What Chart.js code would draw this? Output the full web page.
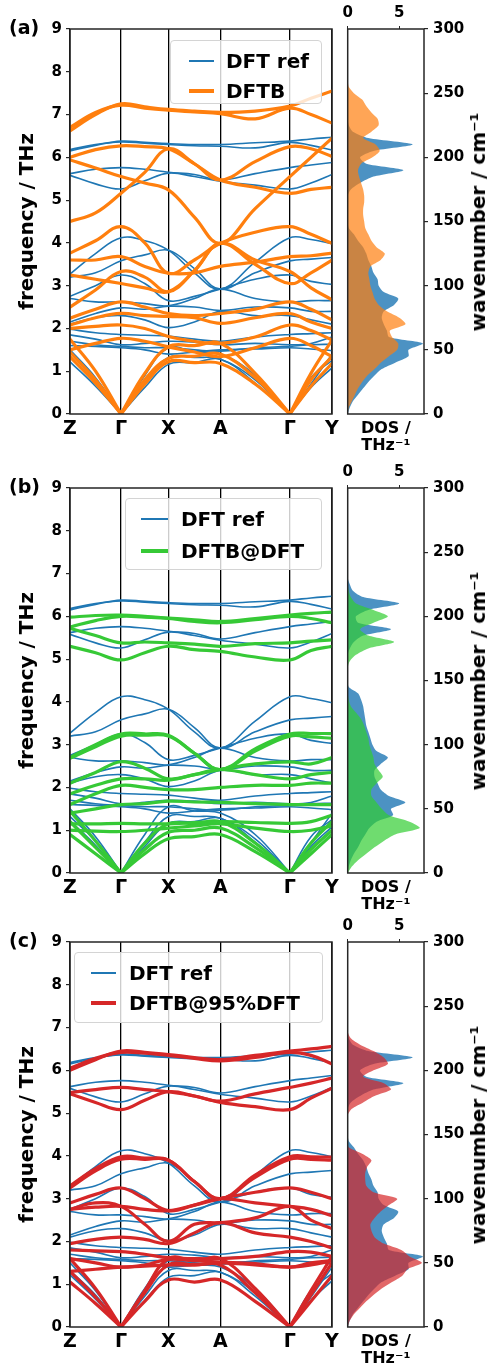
<!DOCTYPE html>
<html><head><meta charset="utf-8">
<script src="https://cdn.jsdelivr.net/npm/chart.js@4.4.1/dist/chart.umd.min.js"></script>
<style>
html,body{margin:0;padding:0;background:#fff;}
#page{position:relative;width:492px;height:1366px;overflow:hidden;font-family:"DejaVu Sans",sans-serif;color:#000;}
canvas{position:absolute;}
.plabel{position:absolute;left:9px;font-weight:bold;font-size:19px;line-height:20px;}
.rtitle{position:absolute;font-weight:bold;font-size:20px;line-height:24px;white-space:nowrap;transform:translate(-50%,-50%) rotate(-90deg);}
.legend{position:absolute;background:rgba(255,255,255,0.8);border:1px solid #d4d4d4;border-radius:4px;box-sizing:border-box;}
.legend .row{position:absolute;left:0;height:24px;width:100%;}
.legend .sw{position:absolute;top:50%;}
.legend .tx{position:absolute;top:0;font-weight:bold;font-size:20px;line-height:24px;white-space:nowrap;}
</style>
</head><body>
<div id="page"></div>
<script>
// ---------- data ----------
const kpos = [0, 51, 98.3, 150.3, 219.7, 261.8];
const klabels = ['Z', 'Γ', 'X', 'A', 'Γ', 'Y'];
// k-path coordinates at which band frequencies (THz) were read
const kSample = [0, 25.5, 51, 74.7, 98.3, 124.3, 150.3, 185, 219.7, 240.8, 261.8];

const dftRef = [
 [6.15, 6.28, 6.38, 6.35, 6.32, 6.30, 6.30, 6.34, 6.38, 6.43, 6.47],
 [6.18, 6.30, 6.36, 6.33, 6.30, 6.27, 6.26, 6.22, 6.35, 6.28, 6.17],
 [5.62, 5.72, 5.76, 5.72, 5.65, 5.60, 5.47, 5.62, 5.76, 5.82, 5.88],
 [5.58, 5.38, 5.26, 5.45, 5.63, 5.55, 5.44, 5.35, 5.26, 5.40, 5.60],
 [3.27, 3.75, 4.12, 4.05, 3.83, 3.30, 2.92, 3.55, 4.12, 4.08, 3.98],
 [3.20, 3.30, 3.58, 3.72, 3.83, 3.40, 2.92, 3.30, 3.58, 3.62, 3.66],
 [2.75, 3.00, 3.25, 3.05, 2.65, 2.75, 2.92, 3.15, 3.25, 3.10, 3.03],
 [2.70, 2.62, 2.62, 2.58, 2.53, 2.70, 2.92, 2.70, 2.62, 2.65, 2.65],
 [2.15, 2.35, 2.48, 2.45, 2.52, 2.50, 2.42, 2.50, 2.48, 2.40, 2.40],
 [2.10, 2.25, 2.30, 2.20, 2.02, 2.15, 2.40, 2.30, 2.30, 2.20, 2.10],
 [1.98, 1.90, 1.86, 1.84, 1.82, 1.75, 1.70, 1.80, 1.86, 1.88, 1.90],
 [1.85, 1.75, 1.62, 1.65, 1.70, 1.68, 1.62, 1.65, 1.62, 1.65, 1.80],
 [1.70, 1.62, 1.58, 1.55, 1.55, 1.50, 1.47, 1.55, 1.58, 1.62, 1.63],
 [1.60, 1.58, 1.55, 1.50, 1.40, 1.45, 1.50, 1.52, 1.55, 1.52, 1.48],
 [1.50, 0.85, 0, 0.90, 1.55, 1.45, 1.40, 0.90, 0, 0.85, 1.25],
 [1.32, 0.75, 0, 0.72, 1.32, 1.32, 1.28, 0.80, 0, 0.70, 1.40],
 [1.22, 0.65, 0, 0.62, 1.16, 1.20, 1.28, 0.72, 0, 0.62, 1.08]
];
const dftb = [
 [6.62, 7.00, 7.25, 7.18, 7.12, 7.08, 7.05, 7.08, 7.20, 7.38, 7.55],
 [6.70, 7.05, 7.22, 7.15, 7.10, 7.06, 7.02, 6.90, 7.15, 7.00, 6.80],
 [6.00, 6.18, 6.27, 6.25, 6.20, 5.85, 5.47, 5.90, 6.25, 6.20, 6.02],
 [5.94, 5.75, 5.55, 5.40, 5.24, 4.60, 3.99, 4.80, 5.55, 6.00, 6.45],
 [4.50, 4.70, 5.16, 5.65, 6.20, 5.85, 5.47, 5.30, 5.16, 5.25, 5.30],
 [3.76, 4.05, 4.38, 4.00, 3.29, 3.60, 3.99, 4.25, 4.38, 4.20, 3.99],
 [3.60, 3.60, 3.68, 3.45, 3.29, 3.30, 3.45, 3.55, 3.68, 3.70, 3.76],
 [3.25, 3.15, 3.05, 2.95, 2.86, 3.35, 3.99, 3.50, 3.05, 3.30, 3.60],
 [2.50, 2.90, 3.33, 3.20, 2.86, 3.35, 3.99, 3.60, 3.33, 2.95, 2.67],
 [2.24, 2.45, 2.62, 2.50, 2.35, 2.30, 2.35, 2.45, 2.62, 2.45, 2.20],
 [2.08, 2.25, 2.35, 2.30, 2.28, 2.25, 2.12, 2.25, 2.35, 2.15, 2.00],
 [2.00, 2.05, 2.08, 2.00, 1.81, 1.70, 1.65, 1.80, 2.08, 1.95, 1.73],
 [1.50, 1.65, 1.77, 1.70, 1.57, 1.45, 1.34, 1.55, 1.77, 1.60, 1.34],
 [1.75, 1.00, 0, 0.95, 1.57, 1.60, 1.65, 0.95, 0, 0.95, 1.73],
 [1.45, 0.80, 0, 0.80, 1.30, 1.35, 1.40, 0.85, 0, 0.80, 1.34],
 [1.34, 0.72, 0, 0.70, 1.22, 1.20, 1.18, 0.70, 0, 0.65, 1.18]
];
const dftbAtDft = [
 [5.98, 6.02, 6.03, 6.00, 5.96, 5.92, 5.88, 5.95, 6.03, 6.07, 6.10],
 [5.75, 5.90, 6.00, 5.98, 5.95, 5.88, 5.85, 5.92, 6.00, 5.95, 5.85],
 [5.72, 5.55, 5.38, 5.40, 5.38, 5.35, 5.30, 5.36, 5.38, 5.42, 5.45],
 [5.30, 5.15, 4.98, 5.15, 5.30, 5.22, 5.18, 5.05, 4.98, 5.20, 5.30],
 [2.70, 3.00, 3.25, 3.25, 3.22, 2.80, 2.42, 2.90, 3.25, 3.26, 3.26],
 [2.68, 2.95, 3.20, 3.22, 3.20, 2.80, 2.42, 2.85, 3.20, 3.18, 3.15],
 [2.10, 2.35, 2.60, 2.45, 2.20, 2.30, 2.42, 2.55, 2.60, 2.55, 2.70],
 [1.85, 2.05, 2.20, 2.20, 2.17, 2.30, 2.42, 2.30, 2.20, 2.30, 2.35],
 [1.60, 1.85, 2.05, 2.00, 1.95, 1.95, 2.00, 2.05, 2.05, 2.10, 2.10],
 [1.40, 1.50, 1.60, 1.62, 1.68, 1.66, 1.65, 1.62, 1.60, 1.60, 1.60],
 [1.15, 1.15, 1.16, 1.15, 1.15, 1.18, 1.20, 1.18, 1.16, 1.20, 1.35],
 [1.00, 0.98, 0.97, 1.00, 1.05, 1.10, 1.15, 1.05, 0.97, 1.00, 1.10],
 [1.45, 0.75, 0, 0.70, 1.15, 1.15, 1.20, 0.70, 0, 0.70, 1.20],
 [1.20, 0.60, 0, 0.55, 0.95, 1.00, 1.05, 0.60, 0, 0.55, 1.00],
 [0.90, 0.45, 0, 0.45, 0.80, 0.85, 0.90, 0.50, 0, 0.45, 0.90]
];
const dftb95 = [
 [6.00, 6.25, 6.45, 6.42, 6.37, 6.30, 6.25, 6.35, 6.45, 6.50, 6.56],
 [6.05, 6.28, 6.42, 6.40, 6.35, 6.28, 6.22, 6.30, 6.42, 6.35, 6.15],
 [5.48, 5.55, 5.60, 5.55, 5.50, 5.40, 5.28, 5.45, 5.60, 5.70, 5.82],
 [5.45, 5.25, 5.08, 5.30, 5.50, 5.40, 5.25, 5.15, 5.08, 5.35, 5.58],
 [3.30, 3.70, 3.98, 3.95, 3.90, 3.40, 3.00, 3.55, 3.98, 3.98, 3.97],
 [3.25, 3.65, 3.92, 3.92, 3.90, 3.40, 3.00, 3.50, 3.92, 3.92, 3.90],
 [2.90, 3.10, 3.25, 3.00, 2.72, 2.85, 3.00, 3.15, 3.25, 3.15, 3.00],
 [2.75, 2.80, 2.82, 2.75, 2.72, 2.85, 3.00, 2.90, 2.82, 2.75, 2.60],
 [2.75, 2.90, 2.82, 2.40, 2.00, 2.40, 2.44, 2.55, 2.82, 2.50, 2.30],
 [1.95, 2.05, 2.10, 2.05, 1.95, 2.20, 2.44, 2.20, 2.10, 2.00, 1.85],
 [1.80, 1.78, 1.76, 1.70, 1.62, 1.60, 1.60, 1.65, 1.76, 1.75, 1.65],
 [1.60, 1.50, 1.40, 1.45, 1.58, 1.55, 1.52, 1.48, 1.40, 1.50, 1.55],
 [1.30, 1.35, 1.40, 1.42, 1.45, 1.45, 1.50, 1.45, 1.40, 1.45, 1.55],
 [1.60, 0.90, 0, 0.85, 1.60, 1.55, 1.60, 0.90, 0, 0.85, 1.65],
 [1.30, 0.70, 0, 0.80, 1.45, 1.45, 1.45, 0.80, 0, 0.75, 1.50],
 [1.05, 0.55, 0, 0.60, 1.10, 1.05, 1.10, 0.60, 0, 0.60, 1.20]
];

// DOS (THz^-1) read at wavenumbers (cm^-1)
const dosFreq = [0,5,10,15,20,25,30,35,40,45,50,55,60,65,70,75,80,85,90,95,100,105,110,115,120,125,130,135,140,145,150,155,160,165,170,175,180,185,190,195,200,205,210,215,220,225,230,235,240,245,250,255,260];
const dosRefAC = [0,0.2,0.5,1.0,1.5,2.0,2.6,3.3,4.6,5.9, 5.9,7.3,4.0,3.8,3.5,3.3,3.5,4.5,4.9,3.5, 3.0,2.9,2.5,2.3,2.0,1.8,1.5,1.0,0.6,0.1, 0,0,0,0,0,0.3,1.2,2.5,5.4,1.8, 1.2,2.5,6.3,2.0,0.5,0.1,0,0,0,0, 0,0,0];
const dosDftb = [0,0.1,0.4,0.7,1.0,1.4,1.9,2.6,3.2,4.0, 4.8,4.9,4.3,4.1,5.6,5.0,3.8,3.0,2.6,2.4, 2.2,2.1,2.0,2.2,3.2,3.6,2.8,2.3,2.0,1.7, 1.6,1.5,1.5,1.6,1.6,1.5,1.3,1.1,1.0,1.3, 2.4,3.1,2.7,1.5,2.3,3.0,2.9,2.3,1.8,1.4, 0.6,0.1,0];
const dosRefB = [0,0.1,0.3,0.6,1.0,1.3,1.7,2.1,2.8,4.4, 4.2,5.6,4.0,3.2,2.9,2.6,2.6,3.2,3.9,2.8, 2.4,2.2,2.0,1.8,1.7,1.6,1.5,1.3,1.0,0.1, 0,0,0,0,0,0.2,0.6,1.5,4.2,1.0, 0.8,2.0,5.0,1.5,0.5,0.2,0,0,0,0, 0,0,0];
const dosDftbAtDft = [0,0.4,1.0,1.8,2.6,3.5,4.6,7.0,6.0,4.0, 3.3,2.8,2.3,2.3,2.8,3.4,3.0,2.6,2.5,2.3, 2.1,2.0,1.8,1.6,1.3,0.8,0.3,0.1,0,0, 0,0,0,0.2,0.8,2.0,4.5,2.0,1.2,2.5, 3.9,2.5,0.8,0.3,0.1,0,0,0,0,0, 0,0,0];
const dosDftb95 = [0,0.2,0.6,1.2,1.8,2.5,3.3,4.3,5.3,5.8, 7.2,6.0,5.2,3.5,2.6,2.3,2.2,2.6,3.2,4.0, 4.8,2.5,1.8,1.7,1.7,1.9,2.3,1.4,0.1,0, 0,0,0,0,0.4,1.5,2.6,4.2,3.5,1.5, 2.5,3.9,3.5,2.5,1.2,0.3,0,0,0,0, 0,0,0];

const dosTicks = [0, 5];
const freqMax = 9, waveMax = 300, dosMax = 7.4;

// ---------- styles ----------
const BLUE = '#1f77b4';
const panels = [
  {tag:'(a)', top:0,   bands:dftb,      color:'#ff7f0e', fill:'rgba(255,127,14,0.7)', dosRef:dosRefAC, dosCol:dosDftb,      name:'DFTB',
   leg:{left:170, top:40, w:152, h:64, sw:18, tx:55, r1:8, r2:38, swLen:25}},
  {tag:'(b)', top:459, bands:dftbAtDft, color:'#36c936', fill:'rgba(50,205,50,0.7)', dosRef:dosRefB, dosCol:dosDftbAtDft, name:'DFTB@DFT',
   leg:{left:125, top:498, w:197, h:72, sw:15, tx:55, r1:8, r2:40, swLen:27}},
  {tag:'(c)', top:913, bands:dftb95,    color:'#d62728', fill:'rgba(214,39,40,0.7)', dosRef:dosRefAC, dosCol:dosDftb95,    name:'DFTB@95%DFT',
   leg:{left:74, top:952, w:249, h:71, sw:16, tx:54, r1:8, r2:38, swLen:25}}
];

Chart.defaults.font.family = '"DejaVu Sans", sans-serif';
Chart.defaults.color = '#000';

const frame = {id:'frame', afterDatasetsDraw(chart){
  const {ctx, chartArea:a} = chart;
  ctx.save(); ctx.strokeStyle = '#262626'; ctx.lineWidth = 1.5;
  ctx.strokeRect(a.left, a.top, a.right - a.left, a.bottom - a.top);
  ctx.restore();
}};

function bandPoints(vals){
  const pts = [];
  vals.forEach((v, i) => {
    pts.push({x:kSample[i], y:v});
    if (i % 2 === 0 && v === 0) pts.push({x:kSample[i], y:v}); // kink for acoustic branch at Γ
  });
  return pts;
}
function dosPoints(vals){ return dosFreq.map((f, i) => ({x:vals[i], y:f})); }

const page = document.getElementById('page');

panels.forEach(p => {
  // band structure
  const c1 = document.createElement('canvas');
  c1.width = 345; c1.height = 445; c1.style.left = '0px'; c1.style.top = p.top + 'px';
  page.appendChild(c1);
  const ds = [];
  p.bands.forEach(b => ds.push({data:bandPoints(b), borderColor:p.color, borderWidth:3.2}));
  dftRef.forEach(b => ds.push({data:bandPoints(b), borderColor:BLUE, borderWidth:1.6}));
  new Chart(c1, {type:'line', data:{datasets:ds}, plugins:[frame], options:{
    responsive:false, animation:false, events:[],
    layout:{padding:{top:29, right:13, left:0, bottom:0}},
    elements:{point:{radius:0}, line:{tension:0.4, fill:false, borderCapStyle:'round', borderJoinStyle:'round'}},
    plugins:{legend:{display:false}, tooltip:{enabled:false}},
    scales:{
      x:{type:'linear', min:0, max:kpos[kpos.length-1],
         afterBuildTicks:s => { s.ticks = kpos.map(v => ({value:v})); },
         ticks:{callback:(v, i) => klabels[i], autoSkip:false, maxRotation:0, font:{size:19, weight:'bold'}, color:'#000', padding:4},
         grid:{color:'#000', lineWidth:1.3, drawTicks:false}, border:{display:false},
         afterFit:s => { s.height = 31; }},
      y:{type:'linear', min:0, max:freqMax,
         ticks:{stepSize:1, font:{size:15, weight:'bold'}, color:'#000', padding:4},
         grid:{drawOnChartArea:false, tickLength:4, color:'#262626', lineWidth:1.2}, border:{display:false},
         title:{display:true, text:'frequency / THz', font:{size:20, weight:'bold'}, color:'#000', padding:{top:16, bottom:0}},
         afterFit:s => { s.width = 70; }}
    }
  }});

  // DOS
  const c2 = document.createElement('canvas');
  c2.width = 157; c2.height = 460; c2.style.left = '335px'; c2.style.top = p.top + 'px';
  page.appendChild(c2);
  new Chart(c2, {type:'line', data:{datasets:[
      {data:dosPoints(p.dosCol), backgroundColor:p.fill, borderColor:'rgba(0,0,0,0)', borderWidth:0, fill:'shape'},
      {data:dosPoints(p.dosRef), backgroundColor:'rgba(31,119,180,0.8)', borderColor:'rgba(0,0,0,0)', borderWidth:0, fill:'shape'}
    ]}, plugins:[frame], options:{
    responsive:false, animation:false, events:[],
    layout:{padding:{top:0, right:0, left:12.7, bottom:0}},
    elements:{point:{radius:0}, line:{tension:0.25}},
    plugins:{legend:{display:false}, tooltip:{enabled:false}},
    scales:{
      x:{type:'linear', position:'top', min:0, max:dosMax,
         afterBuildTicks:s => { s.ticks = dosTicks.map(v => ({value:v})); },
         ticks:{font:{size:15, weight:'bold'}, color:'#000', padding:4, maxRotation:0},
         grid:{drawOnChartArea:false, tickLength:3, color:'#262626'}, border:{display:false},
         afterFit:s => { s.height = 29; }},
      x2:{type:'linear', axis:'x', position:'bottom', min:0, max:1,
         ticks:{display:false}, grid:{display:false}, border:{display:false},
         title:{display:true, text:['DOS /', 'THz⁻¹'], font:{size:16, weight:'bold', lineHeight:1.1}, color:'#000', padding:{top:0, bottom:5}},
         afterFit:s => { s.height = 46; }},
      y:{type:'linear', position:'right', min:0, max:waveMax,
         ticks:{stepSize:50, font:{size:15, weight:'bold'}, color:'#000', padding:5},
         grid:{drawOnChartArea:false, tickLength:4, color:'#262626', lineWidth:1.2}, border:{display:false},
         afterFit:s => { s.width = 68; }}
    }
  }});

  // right axis title (reads bottom-to-top, as in the reference)
  const rt = document.createElement('div');
  rt.className = 'rtitle'; rt.textContent = 'wavenumber / cm⁻¹';
  rt.style.left = '478px'; rt.style.top = (p.top + 221.5) + 'px';
  page.appendChild(rt);

  // panel tag
  const t = document.createElement('div');
  t.className = 'plabel'; t.textContent = p.tag;
  t.style.top = (p.top + 17) + 'px';
  page.appendChild(t);

  // legend
  const L = p.leg;
  const lg = document.createElement('div');
  lg.className = 'legend';
  Object.assign(lg.style, {left:L.left+'px', top:L.top+'px', width:L.w+'px', height:L.h+'px'});
  [[ 'DFT ref', BLUE, 2, L.r1 ], [ p.name, p.color, 4.5, L.r2 ]].forEach(([txt, col, lw, ry]) => {
    const row = document.createElement('div'); row.className = 'row'; row.style.top = ry + 'px';
    const sw = document.createElement('div'); sw.className = 'sw';
    Object.assign(sw.style, {left:L.sw+'px', width:L.swLen+'px', height:lw+'px', marginTop:(-lw/2)+'px', background:col});
    const tx = document.createElement('div'); tx.className = 'tx'; tx.style.left = L.tx + 'px'; tx.textContent = txt;
    row.appendChild(sw); row.appendChild(tx); lg.appendChild(row);
  });
  page.appendChild(lg);
});
</script>
</body></html>
